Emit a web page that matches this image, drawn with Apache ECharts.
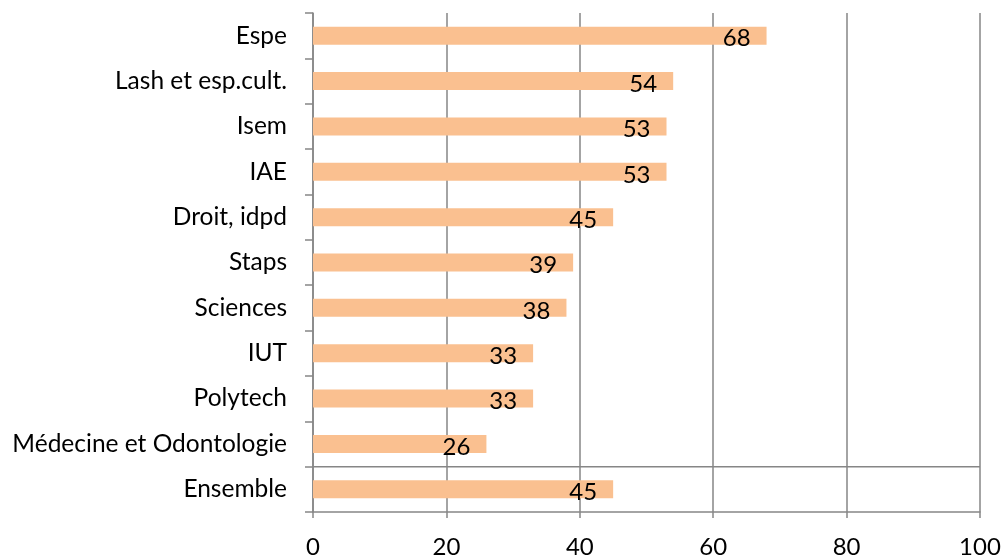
<!DOCTYPE html>
<html>
<head>
<meta charset="utf-8">
<script src="https://cdn.jsdelivr.net/npm/echarts@6/dist/echarts.min.js"></script>
<style>
  html, body { margin: 0; padding: 0; background: #fff; }
  #chart { width: 1004px; height: 559px; }
</style>
</head>
<body>
<div id="chart"></div>
<script>
// Composantes, listed from top to bottom
const categories = [
  'Espe', 'Lash et esp.cult.', 'Isem', 'IAE', 'Droit, idpd', 'Staps',
  'Sciences', 'IUT', 'Polytech', 'Médecine et Odontologie', 'Ensemble'
];
const values = [68, 54, 53, 53, 45, 39, 38, 33, 33, 26, 45];
const xTicks = [0, 20, 40, 60, 80, 100];

const FONT = 'Lato, "Noto Sans", sans-serif';
const GRAY = '#868686';
const n = categories.length;
const xMin = xTicks[0];
const xMax = xTicks[xTicks.length - 1];

const chart = echarts.init(document.getElementById('chart'), null, { renderer: 'canvas' });
chart.setOption({
  animation: false,
  backgroundColor: '#fff',
  grid: { left: 313, right: 24, top: 13, bottom: 46, containLabel: false },
  xAxis: {
    type: 'value',
    min: xMin,
    max: xMax,
    interval: xTicks[1] - xTicks[0],
    axisLine: { show: true, onZero: false, lineStyle: { color: GRAY, width: 1.5 } },
    axisTick: { show: true, length: 6, lineStyle: { color: GRAY, width: 1.5 } },
    splitLine: { show: true, lineStyle: { color: GRAY, width: 1.5 } },
    axisLabel: { color: '#000', fontFamily: FONT, fontSize: 24, margin: 23 }
  },
  yAxis: [{
    type: 'category',
    inverse: true,
    data: categories,
    axisLine: { show: true, lineStyle: { color: GRAY, width: 1.5 } },
    axisTick: { show: true, length: 8, lineStyle: { color: GRAY, width: 1.5 } },
    splitLine: { show: false },
    axisLabel: { color: '#000', fontFamily: FONT, fontSize: 24.5, margin: 26 }
  }, {
    // helper axis measured in bands, top = 0, bottom = n
    type: 'value',
    inverse: true,
    min: 0,
    max: n,
    show: false,
    splitLine: { show: false }
  }],
  series: [{
    type: 'bar',
    data: values,
    barWidth: 18,
    itemStyle: { color: '#FAC090' },
    label: {
      show: true,
      position: 'insideRight',
      distance: 16,
      offset: [0, 3],
      color: '#000',
      fontFamily: FONT,
      fontSize: 24
    }
  }, {
    // rule setting the "Ensemble" row apart from the composantes
    type: 'line',
    yAxisIndex: 1,
    data: [[xMin, n - 1], [xMax, n - 1]],
    symbol: 'none',
    silent: true,
    lineStyle: { color: GRAY, width: 1.5 },
    z: 1
  }]
});
</script>
</body>
</html>
